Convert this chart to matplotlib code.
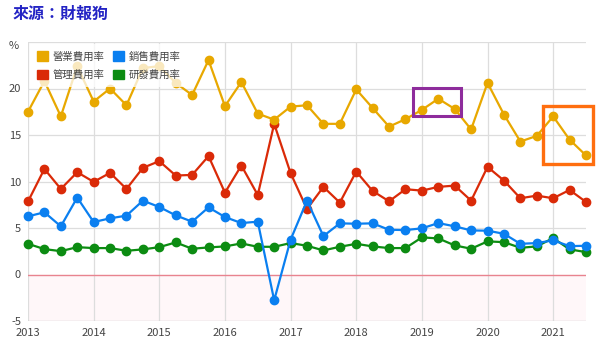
import matplotlib
matplotlib.use("Agg")
import matplotlib.pyplot as plt
from matplotlib.patches import Rectangle, Patch

plt.rcParams['font.family'] = ['Noto Sans CJK TC', 'DejaVu Sans']

# Quarterly periods from 2013 Q1 to 2021 Q3
quarters = [2013 + 0.25 * i for i in range(35)]

operating = [17.5, 20.8, 17.0, 22.4, 18.6, 20.0, 18.2, 22.2, 22.4, 20.6,
             19.3, 23.05, 18.1, 20.7, 17.3, 16.65, 18.05, 18.2, 16.2, 16.2,
             19.9, 17.9, 15.9, 16.7, 17.7, 18.9, 17.8, 15.6, 20.6, 17.2,
             14.3, 14.9, 17.0, 14.5, 12.8]
admin = [7.85, 11.35, 9.2, 11.0, 9.96, 10.93, 9.2, 11.47, 12.19, 10.64,
         10.71, 12.73, 8.8, 11.72, 8.55, 16.2, 10.9, 7.04, 9.42, 7.73,
         11.07, 8.98, 7.87, 9.17, 9.02, 9.42, 9.56, 7.94, 11.57, 10.1,
         8.2, 8.48, 8.2, 9.09, 7.8]
selling = [6.25, 6.69, 5.18, 8.27, 5.64, 6.04, 6.33, 7.94, 7.26, 6.36,
           5.68, 7.22, 6.18, 5.53, 5.68, -2.77, 3.74, 7.94, 4.13, 5.5,
           5.46, 5.5, 4.81, 4.78, 4.96, 5.53, 5.18, 4.74, 4.71, 4.38,
           3.3, 3.38, 3.67, 3.05, 3.09]
rnd = [3.3, 2.73, 2.51, 2.94, 2.84, 2.84, 2.55, 2.7, 2.94, 3.45,
       2.77, 2.91, 3.02, 3.34, 2.98, 2.98, 3.38, 3.09, 2.59, 2.98,
       3.3, 3.02, 2.84, 2.84, 3.99, 3.88, 3.13, 2.77, 3.56, 3.48,
       2.87, 3.02, 3.92, 2.7, 2.41]

series_names = ['營業費用率', '銷售費用率', '管理費用率', '研發費用率']
series_colors = ['#E8A800', '#0A7FF0', '#DA2A08', '#0C8C12']

years = list(range(2013, 2022))
y_ticks = [-5, 0, 5, 10, 15, 20]

fig = plt.figure(figsize=(6.0, 3.46), dpi=100)
ax = fig.add_axes([28 / 600, 25 / 346, 558 / 600, 279 / 346])
ax.set_xlim(2013, 2021.5)
ax.set_ylim(-5, 25)

# negative region and zero line
ax.axhspan(-5, 0, color='#FFF7F9', zorder=0)
ax.axhline(0, color='#E8838F', lw=1.0, zorder=1)

for yv in [5, 10, 15, 20, 25]:
    ax.axhline(yv, color='#DDDDDD', lw=0.9, zorder=0.5)
for xv in years:
    ax.axvline(xv, color='#DDDDDD', lw=0.9, zorder=0.5)
ax.axhline(-5, color='#CCCCCC', lw=1.0, zorder=1)

data = [operating, selling, admin, rnd]
order = [3, 1, 2, 0]
for i in order:
    ax.plot(quarters, data[i], color=series_colors[i], lw=1.6,
            marker='o', ms=6, mec=series_colors[i], zorder=3 + (3 - i) * 0.1,
            clip_on=False)

for s in ax.spines.values():
    s.set_visible(False)
ax.tick_params(length=0, labelsize=8, colors='#444444')
ax.set_xticks(years)
ax.set_xticklabels([str(y) for y in years])
ax.set_yticks(y_ticks)
ax.set_yticklabels([str(v) for v in y_ticks])
ax.tick_params(axis='y', pad=5)
ax.tick_params(axis='x', pad=5)

# highlight boxes
ax.add_patch(Rectangle((2018.87, 17.0), 0.73, 3.0, fill=False,
                       ec='#8E2C9C', lw=2.2, zorder=6, clip_on=False))
ax.add_patch(Rectangle((2020.84, 11.9), 0.76, 6.2, fill=False,
                       ec='#FF6E0F', lw=2.4, zorder=6, clip_on=False))

# legend filled column-wise: first column holds entries 0 and 2
leg_idx = [0, 2, 1, 3]
handles = [Patch(facecolor=series_colors[i], edgecolor=series_colors[i])
           for i in leg_idx]
labels = [series_names[i] for i in leg_idx]
leg = ax.legend(handles, labels, ncol=2, loc='upper left',
                bbox_to_anchor=(0.0, 1.0), frameon=True, fontsize=7.5,
                handlelength=1.0, handleheight=1.0, handletextpad=0.5,
                columnspacing=0.8, labelspacing=0.75, borderpad=0.7,
                borderaxespad=0.2)
leg.get_frame().set_facecolor('white')
leg.get_frame().set_alpha(0.75)
leg.get_frame().set_edgecolor('none')
leg.set_zorder(5)
for t in leg.get_texts():
    t.set_color('#444444')

fig.text(14 / 600, 1 - 46 / 346, '%', fontsize=8, color='#444444',
         ha='center', va='center')
fig.text(13 / 600, 1 - 14 / 346, '來源：財報狗', fontsize=11.5,
         color='#2323C4', fontweight='bold', ha='left', va='center')

fig.savefig('out.png', dpi=100)
